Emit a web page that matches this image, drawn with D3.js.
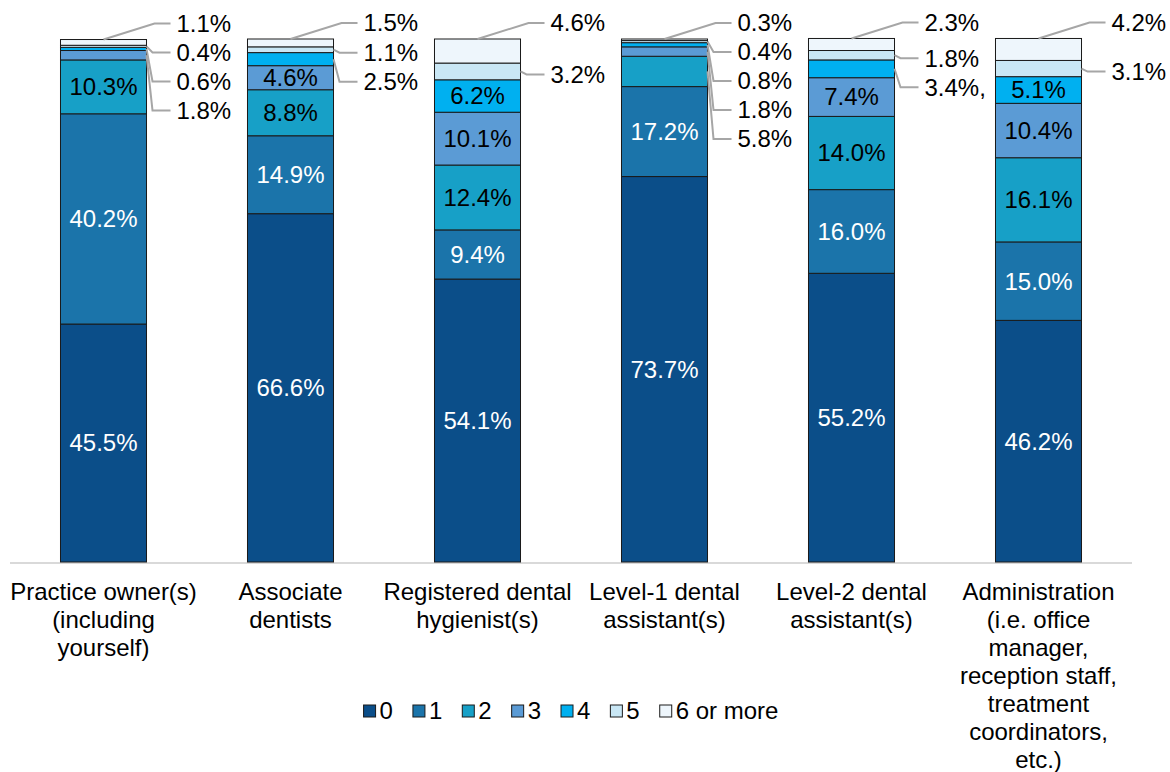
<!DOCTYPE html>
<html>
<head>
<meta charset="utf-8">
<script src="https://cdn.jsdelivr.net/npm/d3@7"></script>
<style>
  body { margin: 0; background: #fff; }
  svg text { font-family: "Liberation Sans", Arial, sans-serif; }
</style>
</head>
<body>
<div id="chart"></div>
<script>

// categories (one entry per line of the wrapped axis label)
const categories = [
  ["Practice owner(s)", "(including", "yourself)"],
  ["Associate", "dentists"],
  ["Registered dental", "hygienist(s)"],
  ["Level-1 dental", "assistant(s)"],
  ["Level-2 dental", "assistant(s)"],
  ["Administration", "(i.e. office", "manager,", "reception staff,", "treatment", "coordinators,", "etc.)"]
]

const seriesNames = ["0", "1", "2", "3", "4", "5", "6 or more"]

// percent values, one array per series, in category order
const s0 = [45.5, 66.6, 54.1, 73.7, 55.2, 46.2]
const s1 = [40.2, 14.9, 9.4, 17.2, 16.0, 15.0]
const s2 = [10.3, 8.8, 12.4, 5.8, 14.0, 16.1]
const s3 = [1.8, 4.6, 10.1, 1.8, 7.4, 10.4]
const s4 = [0.6, 2.5, 6.2, 0.8, 3.4, 5.1]
const s5 = [0.4, 1.1, 3.2, 0.4, 1.8, 3.1]
const s6 = [1.1, 1.5, 4.6, 0.3, 2.3, 4.2]

// label text as printed (one label carries a stray comma in the original)
const labelText = {"4-4": "3.4%,"}

// how many of the top series get a callout label outside the bar
const outsideCount = [4, 3, 2, 5, 3, 2]

const colors = ["#0b4e89", "#1b74aa", "#17a0c7", "#5b9bd5", "#00b0f0", "#c9e7f5", "#eef6fc"]
const labelColors = ["#fff", "#fff", "#000", "#000", "#000", "#000", "#000"]

const width = 1170, height = 772
const margin = {top: 39, left: 10, right: 38, bottom: 210}
const plotBottom = height - margin.bottom

const allSeries = [s0, s1, s2, s3, s4, s5, s6]

const rows = categories.map((c, i) => {
  const r = {key: i}
  allSeries.forEach((s, j) => r[j] = s[i])
  return r
})

const stack = d3.stack().keys(d3.range(allSeries.length))
const stacked = stack(rows)

const x = d3.scaleBand().domain(d3.range(categories.length))
  .range([margin.left, width - margin.right]).paddingInner(0.54).paddingOuter(0.27)
const y = d3.scaleLinear().domain([0, 100]).range([plotBottom, margin.top])

const svg = d3.select('#chart').append('svg').attr('width', width).attr('height', height)

// baseline
svg.append('line')
  .attr('x1', margin.left).attr('x2', width - margin.right)
  .attr('y1', plotBottom + 1).attr('y2', plotBottom + 1)
  .attr('stroke', '#d9d9d9').attr('stroke-width', 2)

// bars
stacked.forEach(function (layer, j) {
  svg.append('g').selectAll('rect')
    .data(layer)
    .enter()
    .append('rect')
    .attr('x', (d, i) => x(i))
    .attr('y', d => y(d[1]))
    .attr('width', x.bandwidth())
    .attr('height', d => y(d[0]) - y(d[1]))
    .attr('fill', colors[j])
    .attr('stroke', '#1a1a1a')
    .attr('stroke-width', 1)
})

const fmt = d => d.toFixed(1) + '%'
const fontSize = 24

// inside labels
stacked.forEach(function (layer, j) {
  layer.forEach(function (d, i) {
    if (j >= allSeries.length - outsideCount[i]) return
    svg.append('text')
      .attr('x', x(i) + x.bandwidth() / 2)
      .attr('y', y((d[0] + d[1]) / 2))
      .attr('dy', '0.35em')
      .attr('text-anchor', 'middle')
      .attr('font-size', fontSize)
      .attr('fill', labelColors[j])
      .text(labelText[i + '-' + j] || fmt(allSeries[j][i]))
  })
})

// outside callout labels with leader lines
categories.forEach(function (c, i) {
  const right = x(i) + x.bandwidth()
  const textX = right + 30
  let prev = null
  for (let j = allSeries.length - 1; j >= allSeries.length - outsideCount[i]; j--) {
    const d = stacked[j][i]
    const mid = y((d[0] + d[1]) / 2)
    let ly, pts
    if (j === allSeries.length - 1) {
      ly = y(d[1]) - 16
      pts = [[x(i) + x.bandwidth() / 2, y(d[1])], [right + 8, ly], [textX - 6, ly]]
    } else {
      ly = Math.max(mid + 3, prev + 29)
      pts = [[right, mid], [right + 6, ly], [textX - 6, ly]]
    }
    prev = ly
    svg.append('path')
      .attr('d', d3.line()(pts))
      .attr('fill', 'none')
      .attr('stroke', '#a6a6a6')
      .attr('stroke-width', 2)
    svg.append('text')
      .attr('x', textX)
      .attr('y', ly)
      .attr('dy', '0.35em')
      .attr('font-size', fontSize)
      .attr('fill', '#000')
      .text(labelText[i + '-' + j] || fmt(allSeries[j][i]))
  }
})

// category axis labels
categories.forEach(function (lines, i) {
  const t = svg.append('text')
    .attr('x', x(i) + x.bandwidth() / 2)
    .attr('y', plotBottom + 30)
    .attr('dy', '0.35em')
    .attr('text-anchor', 'middle')
    .attr('font-size', fontSize)
    .attr('fill', '#000')
  lines.forEach((ln, k) => {
    t.append('tspan').attr('x', x(i) + x.bandwidth() / 2).attr('dy', k === 0 ? '0.35em' : 28).text(ln)
  })
})

// legend
const legend = svg.append('g')
let lx = 0
seriesNames.forEach(function (name, j) {
  const g = legend.append('g').attr('transform', `translate(${lx},0)`)
  g.append('rect').attr('x', 0).attr('y', -6).attr('width', 12).attr('height', 12)
    .attr('fill', colors[j]).attr('stroke', '#1a1a1a').attr('stroke-width', 1)
  const t = g.append('text').attr('x', 16).attr('y', 0).attr('dy', '0.35em')
    .attr('font-size', fontSize).attr('fill', '#000').text(name)
  lx += 16 + t.node().getComputedTextLength() + 20
})
lx -= 20
legend.attr('transform', `translate(${(margin.left + width - margin.right) / 2 - lx / 2},711)`)

</script>
</body>
</html>
